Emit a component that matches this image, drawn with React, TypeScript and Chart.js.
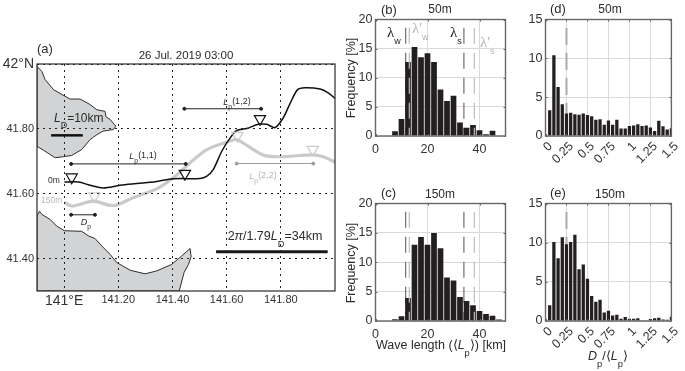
import React, { useEffect, useRef } from "react";
import { Chart, registerables } from "chart.js";

Chart.register(...registerables);

const FONT = '"Liberation Sans", Arial, sans-serif';
const SERIF = '"Liberation Serif", serif';
const INK = "#2b2b2b";
const BAR = "#231f20";
const LINE_GREY = "#c9cacc";
const TEXT_GREY = "#b4b5b7";

// ---------- Panel (a) data ----------
const lonTicks = [141, 141.2, 141.4, 141.6, 141.8];
const lonLabels = ["141°E", "141.20", "141.40", "141.60", "141.80"];
const latTicks = [41.4, 41.6, 41.8, 42];
const latLabels = ["41.40", "41.60", "41.80", "42°N"];

const northLand = [
  [140.9, 41.993], [140.918, 41.977], [140.93, 41.952], [140.961, 41.921], [140.992, 41.906],
  [141.022, 41.892], [141.059, 41.892], [141.096, 41.875], [141.121, 41.859], [141.151, 41.854],
  [141.155, 41.837], [141.17, 41.829], [141.191, 41.808], [141.182, 41.798], [141.144, 41.793],
  [141.121, 41.782], [141.096, 41.767], [141.065, 41.736], [141.028, 41.718], [140.997, 41.714],
  [140.967, 41.711], [140.948, 41.721], [140.924, 41.734], [140.9, 41.746], [140.9, 41.993],
];
const southLand = [
  [140.9, 41.531], [140.909, 41.546], [140.918, 41.536], [140.948, 41.521], [140.973, 41.5],
  [141.001, 41.486], [141.065, 41.484], [141.09, 41.47], [141.114, 41.462], [141.139, 41.439],
  [141.17, 41.413], [141.194, 41.388], [141.244, 41.364], [141.299, 41.353], [141.342, 41.362],
  [141.397, 41.382], [141.434, 41.408], [141.465, 41.431], [141.469, 41.406], [141.459, 41.382],
  [141.443, 41.357], [141.425, 41.3], [140.9, 41.3], [140.9, 41.531],
];
const contour0m = [
  [141.001, 41.636], [141.053, 41.636], [141.096, 41.626], [141.145, 41.618], [141.207, 41.626],
  [141.28, 41.632], [141.342, 41.638], [141.403, 41.646], [141.502, 41.647], [141.527, 41.654],
  [141.551, 41.675], [141.582, 41.731], [141.613, 41.772], [141.637, 41.795], [141.674, 41.801],
  [141.717, 41.814], [141.748, 41.814], [141.779, 41.804], [141.809, 41.834], [141.834, 41.878],
  [141.862, 41.921], [141.889, 41.927], [141.945, 41.923], [141.975, 41.911], [142.001, 41.893],
];
const contour150m = [
  [141.001, 41.574], [141.028, 41.562], [141.059, 41.567], [141.108, 41.577], [141.17, 41.564],
  [141.201, 41.567], [141.256, 41.588], [141.342, 41.615], [141.403, 41.649], [141.465, 41.695],
  [141.527, 41.736], [141.6, 41.759], [141.637, 41.767], [141.674, 41.749], [141.736, 41.719],
  [141.797, 41.714], [141.92, 41.72], [141.957, 41.714], [142.001, 41.697],
];
const crests0m = [[141.028, 41.651], [141.446, 41.662], [141.723, 41.831]];
const crests150m = [[141.112, 41.593], [141.64, 41.779], [141.918, 41.736]];
const spanLp11 = [[141.026, 41.692], [141.449, 41.692]];
const spanLp12 = [[141.444, 41.862], [141.727, 41.862]];
const spanLp22 = [[141.637, 41.693], [141.92, 41.693]];
const spanDp = [[141.026, 41.535], [141.114, 41.535]];
const barLD = [[140.952, 41.78], [141.069, 41.78]];
const barLong = [[141.561, 41.421], [141.973, 41.421]];

// ---------- Histogram data ----------
const waveBins = [7.5, 10, 12.5, 15, 17.5, 20, 22.5, 25, 27.5, 30, 32.5, 35, 37.5, 40, 42.5, 45, 47.5];
const waveFreq50 = [0.8, 2.9, 12.7, 15.3, 13.5, 14.2, 12.7, 8.0, 6.0, 6.9, 2.3, 1.4, 1.9, 1.0, 0.3, 0.9, 0.1];
const waveFreq150 = [0.3, 0.8, 3.9, 13.0, 14.3, 13.0, 15.0, 12.4, 7.4, 6.9, 4.1, 3.4, 2.7, 1.7, 1.2, 0.9, 0.25];
const waveXTicks = [0, 20, 40];
const waveYTicks = [0, 5, 10, 15, 20];
const lambdaDark = [11.6, 34];
const lambdaLight = [13, 38];

const depthBins = [
  0.05, 0.1, 0.15, 0.2, 0.25, 0.3, 0.35, 0.4, 0.45, 0.5, 0.55, 0.6, 0.65, 0.7, 0.75,
  0.8, 0.85, 0.9, 0.95, 1, 1.05, 1.1, 1.15, 1.2, 1.25, 1.3, 1.35, 1.4, 1.45, 1.5,
];
const depthFreq50 = [
  3.3, 10.4, 6.3, 4.1, 2.9, 3.0, 2.8, 2.75, 2.9, 2.7, 2.55, 2.1, 2.15, 1.45, 2.0,
  1.45, 2.1, 0.95, 0.95, 1.3, 1.35, 1.5, 1.3, 1.35, 1.1, 0.65, 1.95, 1.25, 0.85, 1.0,
];
const depthFreq150 = [
  2.0, 10.1, 8.0, 10.7, 9.8, 10.1, 11.0, 6.6, 7.2, 5.4, 3.2, 2.45, 2.7, 1.1, 1.3,
  0.7, 0.8, 0.3, 0.5, 0.3, 0.3, 0.35, 0.1, 0.1, 0.25, 0.35, 0.4, 0.2, 0.15, 0.55,
];
const depthXTicks = [0, 0.25, 0.5, 0.75, 1, 1.25, 1.5];
const depthYTicks = [0, 5, 10, 15];
const depthRatio = [0.25];

// ---------- Helpers ----------
type Run = { t: string; size?: number; italic?: boolean; sub?: boolean; family?: string };
type Note = { x: number; y: number; runs: Run[]; color?: string; align?: "left" | "center"; rotate?: number; size: number };

const toXY = (pts: number[][]) => pts.map(([x, y]) => ({ x, y }));
const fontOf = (r: Run, base: number) => {
  const s = (r.size ?? base) * (r.sub ? 0.75 : 1);
  return `${r.italic ? "italic " : ""}${s}px ${r.family ?? FONT}`;
};

function drawNote(ctx: CanvasRenderingContext2D, n: Note) {
  ctx.save();
  ctx.translate(n.x, n.y);
  if (n.rotate) ctx.rotate(n.rotate);
  ctx.fillStyle = n.color ?? INK;
  ctx.textBaseline = "middle";
  ctx.textAlign = "left";
  let total = 0;
  for (const r of n.runs) {
    ctx.font = fontOf(r, n.size);
    total += ctx.measureText(r.t).width;
  }
  let cx = n.align === "center" ? -total / 2 : 0;
  for (const r of n.runs) {
    ctx.font = fontOf(r, n.size);
    ctx.fillText(r.t, cx, r.sub ? n.size * 0.58 : 0);
    cx += ctx.measureText(r.t).width;
  }
  ctx.restore();
}

const decorPlugin = (notes: Note[], frameColor: string, tickLen: number, frameWidth: number) => ({
  id: "decor",
  afterDraw(chart: any) {
    const { ctx, chartArea: a, scales } = chart;
    ctx.save();
    ctx.strokeStyle = frameColor;
    ctx.lineWidth = 1;
    ctx.beginPath();
    if (tickLen > 0) {
      for (const t of scales.x.ticks) {
        const px = Math.round(scales.x.getPixelForValue(t.value)) + 0.5;
        ctx.moveTo(px, a.bottom);
        ctx.lineTo(px, a.bottom - tickLen);
        ctx.moveTo(px, a.top);
        ctx.lineTo(px, a.top + tickLen);
      }
      for (const t of scales.y.ticks) {
        const py = Math.round(scales.y.getPixelForValue(t.value)) + 0.5;
        ctx.moveTo(a.left, py);
        ctx.lineTo(a.left + tickLen, py);
        ctx.moveTo(a.right, py);
        ctx.lineTo(a.right - tickLen, py);
      }
    }
    ctx.stroke();
    ctx.lineWidth = frameWidth;
    ctx.strokeRect(a.left, a.top, a.right - a.left, a.bottom - a.top);
    ctx.restore();
    notes.forEach((n) => drawNote(ctx, n));
  },
});

const W = 685;
const H = 371;
const AXIS_W = 28;
const AXIS_H = 44;
const pad = (b: { l: number; t: number; r: number; b: number }) => ({
  left: b.l - AXIS_W,
  top: b.t,
  right: W - b.r,
  bottom: H - b.b - AXIS_H,
});
const fixY = (s: any) => {
  s.width = AXIS_W;
};
const fixX = (s: any) => {
  s.height = AXIS_H;
};
const setTicks = (vals: number[]) => (s: any) => {
  s.ticks = vals.map((value) => ({ value }));
};

function mapConfig(): any {
  const seg = (data: number[][], color: string, width: number, r = 0) => ({
    data: toXY(data),
    borderColor: color,
    backgroundColor: color,
    borderWidth: width,
    pointRadius: r,
    tension: 0,
    order: 1,
  });
  const marks = (data: number[][], color: string) => ({
    data: toXY(data),
    showLine: false,
    pointStyle: "triangle",
    pointRotation: 180,
    pointRadius: 6.5,
    pointBorderWidth: 1.2,
    pointBorderColor: color,
    pointBackgroundColor: "rgba(0,0,0,0)",
    order: 0,
  });
  const land = (data: number[][]) => ({
    data: toXY(data),
    borderColor: "#1a1a1a",
    borderWidth: 0.9,
    backgroundColor: "#d1d3d4",
    fill: "shape",
    pointRadius: 0,
    tension: 0,
    order: 5,
  });
  const smooth = (data: number[][], color: string, width: number, order: number) => ({
    data: toXY(data),
    borderColor: color,
    borderWidth: width,
    pointRadius: 0,
    tension: 0.3,
    order,
  });
  const box = { l: 37, t: 64, r: 335, b: 291 };
  const notes: Note[] = [
    { x: 37, y: 49, size: 13, runs: [{ t: "(a)" }] },
    { x: 186, y: 56, size: 11.5, align: "center", runs: [{ t: "26 Jul. 2019 03:00" }] },
    { x: 48, y: 181, size: 8.5, runs: [{ t: "0m" }] },
    { x: 41, y: 201, size: 8.5, color: TEXT_GREY, runs: [{ t: "150m" }] },
    { x: 54, y: 119, size: 12, runs: [{ t: "L", italic: true }, { t: "D", sub: true }, { t: "=10km" }] },
    { x: 143, y: 156, size: 9, align: "center", runs: [{ t: "L", italic: true }, { t: "p", sub: true }, { t: "(1,1)" }] },
    { x: 237, y: 102, size: 9, align: "center", runs: [{ t: "L", italic: true }, { t: "p", sub: true }, { t: "(1,2)" }] },
    { x: 263, y: 176, size: 9, align: "center", color: TEXT_GREY, runs: [{ t: "L", italic: true }, { t: "p", sub: true }, { t: "(2,2)" }] },
    { x: 86, y: 222, size: 9, align: "center", runs: [{ t: "D", italic: true }, { t: "p", sub: true }] },
    {
      x: 275,
      y: 237,
      size: 12.5,
      align: "center",
      runs: [{ t: "2" }, { t: "π", italic: true }, { t: "/1.79" }, { t: "L", italic: true }, { t: "D", sub: true }, { t: "=34km" }],
    },
  ];
  const dot = { color: "#222222", lineWidth: 1, drawTicks: false, z: 1 };
  return {
    type: "line",
    data: {
      datasets: [
        land(northLand),
        land(southLand),
        smooth(contour150m, LINE_GREY, 3.2, 3),
        smooth(contour0m, "#111111", 1.5, 2),
        marks(crests0m, "#111111"),
        marks(crests150m, LINE_GREY),
        seg(spanLp11, "#222222", 1, 1.5),
        seg(spanLp12, "#222222", 1, 1.5),
        seg(spanLp22, "#9a9b9d", 1, 1.5),
        seg(spanDp, "#222222", 1, 1.5),
        seg(barLD, "#111111", 2.5),
        seg(barLong, "#1a1a1a", 3),
      ],
    },
    options: {
      animation: false,
      responsive: false,
      devicePixelRatio: 1,
      layout: { padding: { ...pad(box), left: 0 } },
      plugins: { legend: { display: false }, tooltip: { enabled: false } },
      scales: {
        x: {
          type: "linear",
          min: 140.9,
          max: 142,
          afterFit: fixX,
          afterBuildTicks: setTicks(lonTicks),
          border: { display: false, dash: [2, 4] },
          grid: dot,
          ticks: {
            autoSkip: false,
            maxRotation: 0,
            minRotation: 0,
            padding: 2,
            color: "#333333",
            font: (c: any) => ({ family: FONT, size: c.tick && c.tick.value === 141 ? 14 : 11 }),
            callback: (v: number) => lonLabels[lonTicks.indexOf(v)] ?? "",
          },
        },
        y: {
          type: "linear",
          min: 41.3,
          max: 42,
          afterFit: (s: any) => {
            s.width = 37;
          },
          afterBuildTicks: setTicks(latTicks),
          border: { display: false, dash: [2, 4] },
          grid: dot,
          ticks: {
            autoSkip: false,
            padding: 3,
            color: "#333333",
            font: (c: any) => ({ family: FONT, size: c.tick && c.tick.value === 42 ? 14 : 11 }),
            callback: (v: number) => latLabels[latTicks.indexOf(v)] ?? "",
          },
        },
      },
    },
    plugins: [decorPlugin(notes, "#2a2a2a", 0, 1.2)],
  };
}

function histConfig(o: {
  box: { l: number; t: number; r: number; b: number };
  bins: number[];
  values: number[];
  xMax: number;
  yMax: number;
  xTicks: number[];
  yTicks: number[];
  rotate: number;
  barPct: number;
  dashes: { xs: number[]; top: number; color: string; width: number; dash: number[]; order: number }[];
  notes: Note[];
  yPad: number;
}): any {
  const dashSets = o.dashes.flatMap((d) =>
    d.xs.map((x) => ({
      type: "line",
      data: [
        { x, y: d.top },
        { x, y: 0 },
      ],
      borderColor: d.color,
      borderWidth: d.width,
      borderDash: d.dash,
      pointRadius: 0,
      order: d.order,
    }))
  );
  const gridCfg = { color: "#d9dadb", lineWidth: 1, drawTicks: false, z: -1 };
  return {
    type: "bar",
    data: {
      datasets: [
        {
          type: "bar",
          data: o.bins.map((x, i) => ({ x, y: o.values[i] })),
          backgroundColor: BAR,
          barPercentage: o.barPct,
          categoryPercentage: 1,
          order: 1,
        },
        ...dashSets,
      ],
    },
    options: {
      animation: false,
      responsive: false,
      devicePixelRatio: 1,
      layout: { padding: pad(o.box) },
      plugins: { legend: { display: false }, tooltip: { enabled: false } },
      scales: {
        x: {
          type: "linear",
          min: 0,
          max: o.xMax,
          offset: false,
          afterFit: fixX,
          afterBuildTicks: setTicks(o.xTicks),
          border: { display: false },
          grid: { ...gridCfg, offset: false },
          ticks: {
            autoSkip: false,
            minRotation: o.rotate,
            maxRotation: o.rotate,
            padding: o.rotate ? 3 : 6,
            labelOffset: o.rotate ? 5 : 0,
            color: "#333333",
            font: { family: FONT, size: 12.5 },
            callback: (v: number) => String(v),
          },
        },
        y: {
          type: "linear",
          min: 0,
          max: o.yMax,
          afterFit: fixY,
          afterBuildTicks: setTicks(o.yTicks),
          border: { display: false },
          grid: gridCfg,
          ticks: {
            autoSkip: false,
            padding: o.yPad,
            color: "#333333",
            font: { family: FONT, size: 12.5 },
            callback: (v: number) => String(v),
          },
        },
      },
    },
    plugins: [decorPlugin(o.notes, "#666666", 2, 1.4)],
  };
}

const DARK_DASH = "#6d6e70";
const LIGHT_DASH = "#bcbdc0";

function lambdaNote(x: number, y: number, color: string, t: string, s: string): Note {
  return { x, y, color, size: 15, runs: [{ t, family: SERIF }, { t: s, sub: true, size: 12 }] };
}

const xB = { l: 375.5, r: 505.5 };
const xD = { l: 545.5, r: 674.5 };
const yTop = { t: 19.5, b: 136 };
const yBot = { t: 203.5, b: 321 };

function wavePanel(which: "b" | "c"): any {
  const top = which === "b";
  const notes: Note[] = [
    { x: 381, y: top ? 10 : 193, size: 13, runs: [{ t: top ? "(b)" : "(c)" }] },
    { x: 440, y: top ? 10 : 195, size: 12, align: "center", runs: [{ t: top ? "50m" : "150m" }] },
    { x: 352, y: top ? 78 : 263, size: 12.5, align: "center", rotate: -Math.PI / 2, runs: [{ t: "Frequency [%]" }] },
  ];
  if (top) {
    notes.push(
      lambdaNote(387, 33, "#222222", "λ", "w"),
      lambdaNote(412, 29, TEXT_GREY, "λ'", "w"),
      lambdaNote(450, 33, "#222222", "λ", "s"),
      lambdaNote(480, 43, TEXT_GREY, "λ'", "s")
    );
  } else {
    notes.push({
      x: 441,
      y: 346,
      size: 12.5,
      align: "center",
      runs: [{ t: "Wave length (⟨" }, { t: "L", italic: true }, { t: "p", sub: true }, { t: "⟩) [km]" }],
    });
  }
  return histConfig({
    box: { l: xB.l, r: xB.r, t: top ? yTop.t : yBot.t, b: top ? yTop.b : yBot.b },
    bins: waveBins,
    values: top ? waveFreq50 : waveFreq150,
    xMax: 50,
    yMax: 20,
    xTicks: waveXTicks,
    yTicks: waveYTicks,
    rotate: 0,
    barPct: 0.88,
    yPad: 3,
    dashes: [
      { xs: lambdaDark, top: 18.6, color: DARK_DASH, width: 1.2, dash: [16, 9], order: 2 },
      { xs: lambdaLight, top: 18.6, color: LIGHT_DASH, width: 1.2, dash: [16, 9], order: 0 },
    ],
    notes,
  });
}

function depthPanel(which: "d" | "e"): any {
  const top = which === "d";
  const notes: Note[] = [
    { x: 550, y: top ? 9 : 193, size: 13, runs: [{ t: top ? "(d)" : "(e)" }] },
    { x: 610, y: top ? 10 : 195, size: 12, align: "center", runs: [{ t: top ? "50m" : "150m" }] },
  ];
  if (!top) {
    notes.push({
      x: 608,
      y: 357,
      size: 12.5,
      align: "center",
      runs: [{ t: "D", italic: true }, { t: "p", sub: true }, { t: "/⟨" }, { t: "L", italic: true }, { t: "p", sub: true }, { t: "⟩" }],
    });
  }
  return histConfig({
    box: { l: xD.l, r: xD.r, t: top ? yTop.t : yBot.t, b: top ? yTop.b : yBot.b },
    bins: depthBins,
    values: top ? depthFreq50 : depthFreq150,
    xMax: 1.5,
    yMax: 15,
    xTicks: depthXTicks,
    yTicks: depthYTicks,
    rotate: 45,
    barPct: 0.78,
    yPad: 3,
    dashes: [{ xs: depthRatio, top: 13.9, color: "#a9aaad", width: 2, dash: [17, 8], order: 2 }],
    notes,
  });
}

const CONFIGS: (() => any)[] = [
  mapConfig,
  () => wavePanel("b"),
  () => wavePanel("c"),
  () => depthPanel("d"),
  () => depthPanel("e"),
];

function Panel({ make }: { make: () => any }) {
  const ref = useRef<HTMLCanvasElement | null>(null);
  useEffect(() => {
    if (!ref.current) return;
    const chart = new Chart(ref.current, make());
    return () => chart.destroy();
  }, [make]);
  return (
    <canvas
      ref={ref}
      width={W}
      height={H}
      style={{ position: "absolute", left: 0, top: 0, width: W, height: H }}
    />
  );
}

export default function App() {
  return (
    <div style={{ position: "absolute", left: 0, top: 0, width: W, height: H, background: "#ffffff", overflow: "hidden" }}>
      {CONFIGS.map((make, i) => (
        <Panel key={i} make={make} />
      ))}
    </div>
  );
}
